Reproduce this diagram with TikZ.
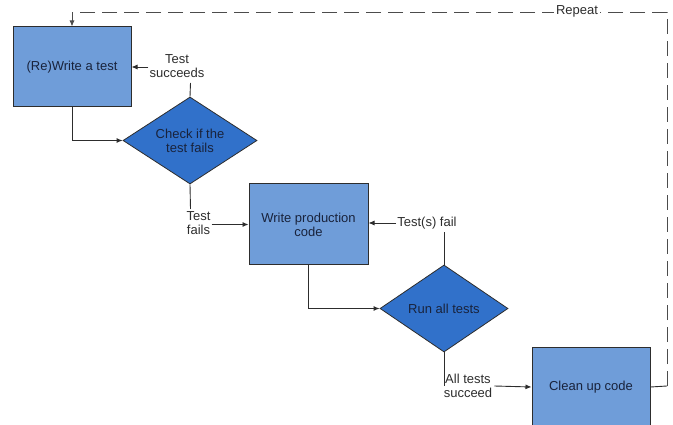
\documentclass[tikz,border=0pt]{standalone}
\usepackage{fontspec}
\setmainfont{Liberation Sans}
\usetikzlibrary{shapes.geometric,arrows.meta}
\definecolor{boxfill}{RGB}{111,157,217}
\definecolor{diafill}{RGB}{49,113,202}
\definecolor{txtdark}{RGB}{25,35,60}
\definecolor{linegray}{RGB}{45,45,45}
\begin{document}
\begin{tikzpicture}[x=1pt,y=-1pt,
  every node/.style={font=\fontsize{13}{14}\selectfont, align=center},
  stepbox/.style={draw=linegray, line width=1pt, fill=boxfill, rectangle, inner sep=0pt, text=txtdark},
  decbox/.style={draw=linegray, line width=0.8pt, fill=diafill, diamond, inner sep=0pt, text=txtdark},
  lbl/.style={inner sep=0pt, text=linegray},
  conn/.style={draw=linegray, line width=0.9pt},
  arr/.style={conn, -{Latex[length=6pt,width=5pt]}},
  rep/.style={draw=linegray!85, line width=0.9pt, dash pattern=on 15pt off 7pt}
]
\useasboundingbox (0,0) rectangle (673,425);

% nodes
\node[stepbox, minimum width=118pt, minimum height=80pt] (w1) at (72,67) {(Re)Write a test};
\node[decbox, minimum width=134pt, minimum height=87pt, aspect=1.54] (d1) at (190,140.5) {Check if the\\test fails};
\node[stepbox, minimum width=119pt, minimum height=81pt] (w2) at (308.5,224.5) {Write production\\code};
\node[decbox, minimum width=128pt, minimum height=87pt, aspect=1.47] (d2) at (444,308.5) {Run all tests};
\node[stepbox, minimum width=118pt, minimum height=80pt] (c3) at (591,387) {Clean up code};

% labels
\node[lbl] (l1) at (177,66.5) {Test\\succeeds};
\node[lbl] (l2) at (198.5,223.5) {Test\\fails};
\node[lbl] (l3) at (427,223) {Test(s) fail};
\node[lbl] (l4) at (468,386) {All tests\\succeed};

% helper coordinates
\coordinate (k1) at (190.5,83);
\coordinate (k2) at (190.5,209);
\coordinate (k3) at (444,232);
\coordinate (k4) at (444,386);
\coordinate (r1) at (667,386);
\coordinate (r2) at (667,12);
\coordinate (r3) at (72,12);

% connectors
\draw[arr] (w1.south) |- (d1.west);
\draw[conn] (d1.north) -- (k1);
\draw[arr] ([xshift=-1pt]l1.west |- w1.east) -- (w1.east);
\draw[conn] (d1.south) -- (k2);
\draw[arr] ([xshift=1pt]l2.east |- w2.west) -- (w2.west);
\draw[arr] (w2.south) |- (d2.west);
\draw[conn] (d2.north) -- (k3);
\draw[arr] ([xshift=-1pt]l3.west) -- (l3.west -| w2.east);
\draw[conn] (d2.south) -- (k4);
\draw[arr] ([xshift=2pt]l4.east) -- (c3.west);

% repeat loop
\draw[conn] (c3.east) -- (r1);
\draw[rep, -{Latex[length=6pt,width=5pt]}] (r1) -- (r2) -- (r3) -- (w1.north);
\node[lbl, fill=white, inner xsep=2pt, inner ysep=1pt] (rp) at (577,11) {Repeat};
\end{tikzpicture}
\end{document}
